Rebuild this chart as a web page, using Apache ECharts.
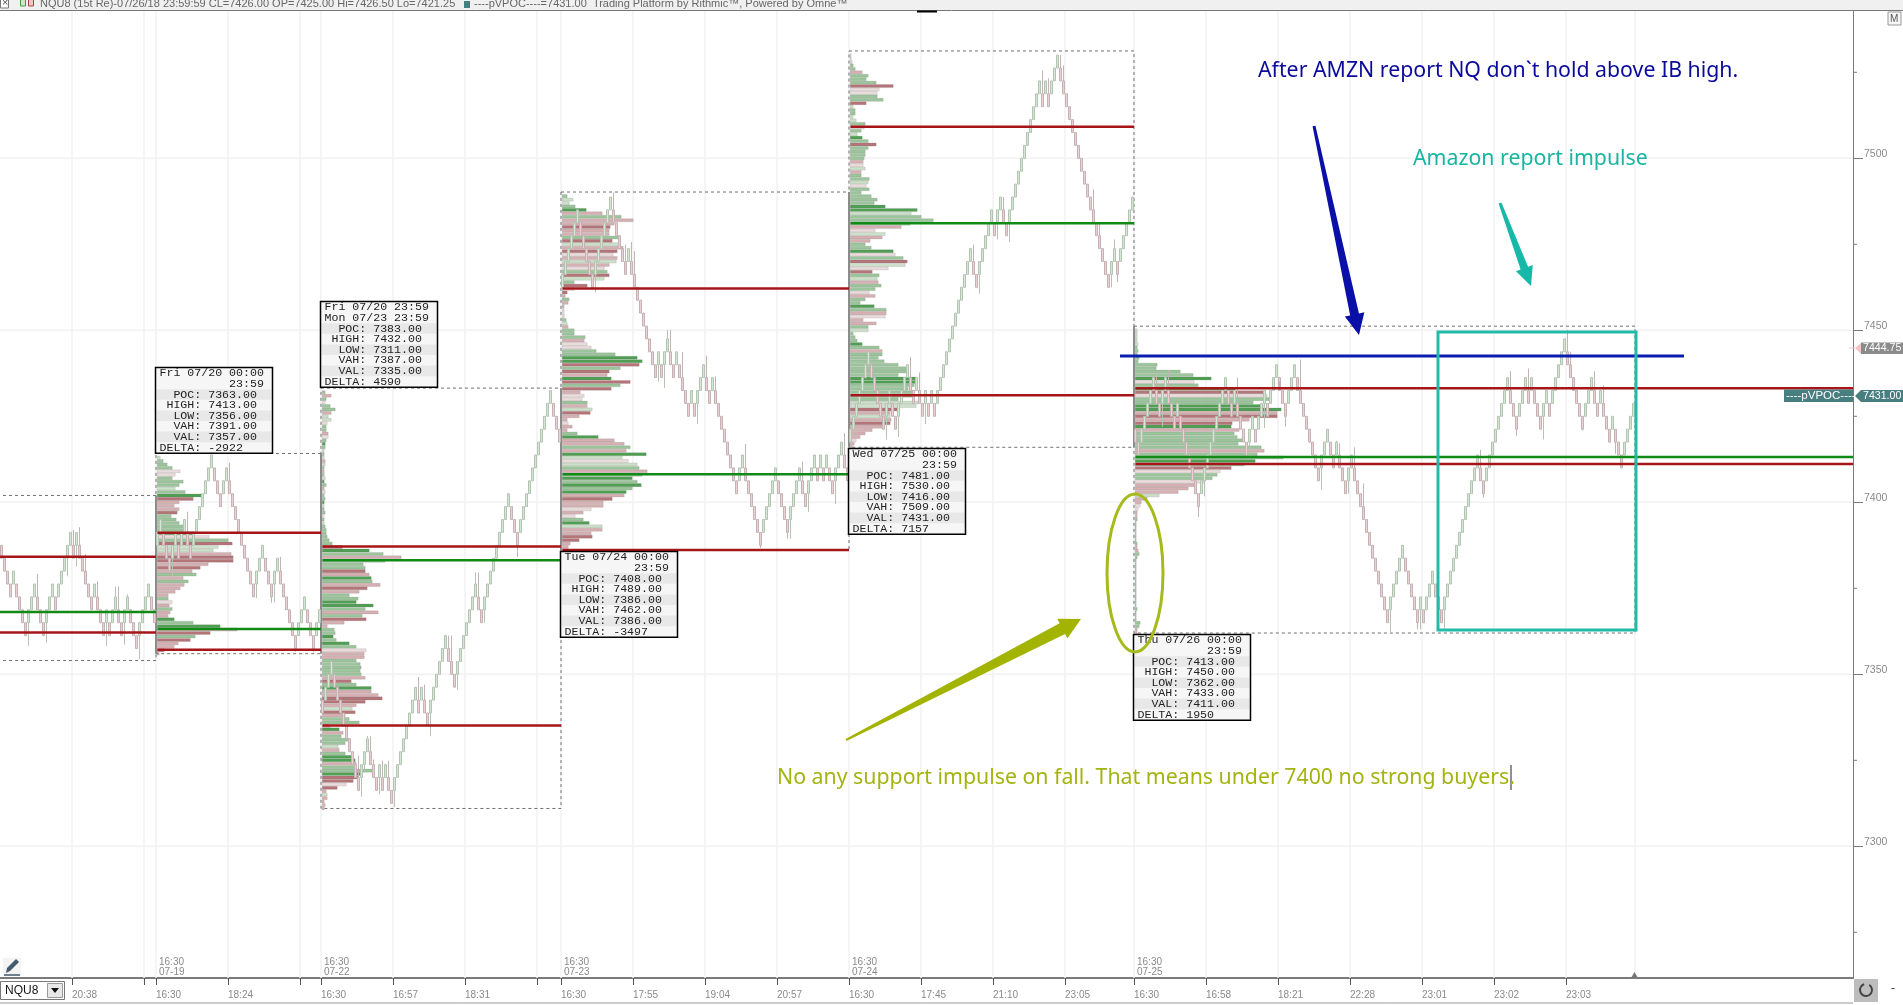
<!DOCTYPE html>
<html><head><meta charset="utf-8">
<style>html,body{margin:0;padding:0;background:#fff}#c{width:1903px;height:1005px}</style>
<script src="https://cdn.jsdelivr.net/npm/echarts@6/dist/echarts.min.js"></script>
</head><body><div id="c"></div>
<script>
// ---------- data ----------
const BRICK = 3.75;                // 15-tick range bars
const LEVEL_BASE = 7391.25;        // price of level 0 (top of bar)
const priceTicks = [7300,7350,7400,7450,7500];
const minorPriceTicks = [7275,7325,7375,7425,7475,7525];
const timeTickSlots = [24,48,52,76,100,107,131,155,179,187,211,235,259,283,307,331,355,378,402,426,450,474,498,522];
const timeLabelSlots = [24,52,76,107,131,155,187,211,235,259,283,307,331,355,378,402,426,450,474,498,522];
const timeLabels = ['20:38','16:30','18:24','16:30','16:57','18:31','16:30','17:55','19:04','20:57','16:30','17:45','21:10','23:05','16:30','16:58','18:21','22:28','23:01','23:02','23:03'];

// bar levels per session (1 level = one 3.75 point bar)
const levelsPrior = [-1,-2,-3,-4,-3,-4,-5,-6,-7,-6,-5,-4,-5,-6,-7,-6,-5,-4,-5,-4,-3,-2,-1,0,-1,0,-1,-2,-3,-4,-5,-4,-5,-6,-7,-6,-7,-6,-5,-6,-7,-6,-5,-6,-7,-8,-7,-6,-5,-4,-5,-6];
const levelsFri = [0,1,0,-1,-2,-1,0,-1,0,1,0,-1,0,1,2,3,4,5,6,5,4,3,4,5,4,3,2,1,0,-1,-2,-3,-4,-3,-2,-1,-2,-3,-4,-3,-2,-3,-4,-5,-6,-7,-8,-7,-6,-5,-6,-7,-8,-7,-6];
const levelsMon = [-13,-12,-11,-10,-11,-12,-13,-14,-15,-16,-17,-18,-19,-18,-17,-16,-17,-18,-19,-18,-19,-18,-19,-20,-19,-18,-17,-16,-15,-14,-13,-12,-13,-12,-13,-14,-13,-12,-11,-10,-9,-8,-9,-10,-11,-10,-9,-8,-7,-6,-5,-4,-5,-6,-5,-4,-3,-2,-1,0,1,2,3,2,1,0,1,2,3,4,5,6,7,8,9,10,11,10,9,8];
const levelsTue = [20,21,22,23,24,25,24,23,22,21,20,21,22,23,24,25,26,25,24,23,22,21,22,21,20,19,18,17,16,15,14,13,14,13,14,15,14,13,14,13,12,11,10,11,10,11,12,13,12,11,12,11,10,9,8,7,6,5,4,5,6,5,4,3,2,1,0,1,2,3,4,5,4,3,2,1,2,3,4,5,4,3,4,5,6,5,6,5,6,5,4,5,6,7,6,5];
const levelsWed = [8,9,10,11,12,13,14,13,12,11,10,9,10,11,10,9,10,11,12,13,12,11,12,11,10,11,10,11,10,11,12,13,14,15,16,17,18,19,20,21,22,21,20,21,22,23,24,25,24,25,26,25,24,25,26,27,28,29,30,31,32,33,34,35,34,35,34,35,36,37,36,35,34,33,32,31,30,29,28,27,26,25,24,23,22,21,20,21,22,21,22,23,24,25,26];
const levelsThu = [8,7,8,9,10,11,12,11,10,11,12,11,10,9,10,9,8,7,6,5,4,3,4,5,6,7,8,9,10,11,12,11,10,11,10,9,8,7,8,9,8,9,10,11,10,11,12,13,12,11,10,11,12,13,12,11,10,9,8,7,6,5,6,7,8,7,6,7,6,5,4,5,6,5,4,3,2,1,0,-1,-2,-3,-4,-5,-6,-5,-4,-3,-2,-1,-2,-3,-4,-5,-6,-5,-6,-5,-4,-3,-4,-5,-6,-5,-4,-3,-2,-1,0,1,2,3,4,5,6,5,4,5,6,7,8,9,10,11,12,11,10,9,10,11,12,11,12,11,10,9,10,11,10,11,12,13,14,15,14,13,12,11,10,9,10,11,12,11,10,11,10,9,8,9,8,7,6,7,8,9,10];
// long wicks: [bar number, level reached]
const longWicks = [[9,-8.8],[12,-3.2],[15,-8.55],[22,-3.4],[24,.2],[25,-2.66],[26,.4],[28,-1.7],[32,-3.8],[35,-8.8],[38,-4.2],[39,-4.2],[41,-8.7],[42,-4.8],[46,-9.8],
[57,-3.6],[62,1.6],[76,5.4],[85,-5.1],[90,-5.45],[91,-5.45],[93,-1.9],[98,-9.25],[104,-9.25],
[119,-17.3],[120,-20.5],[121,-18.5],[122,-15.8],[123,-15.8],[124,-17.6],[126,-20.3],[127,-17.7],[129,-17.7],[131,-21.3],[139,-11.2],[141,-11.8],[143,-15.8],[148,-7.96],[149,-8],[150,-8],[152,-12.2],[158,-3.1],[159,-3.1],[160,-7],[161,-7],[172,-1.9],
[204,26.35],[198,18.6],[208,22.3],[210,22.5],[211,21.8],[222,15.7],[223,15.7],[219,11.7],[221,11.2],[227,14],[235,13.7],[232,8.4],[238,12.1],[248,6.85],[253,-1.2],[262,-.5],[263,-.5],[267,5.5],[269,1.6],[278,2.2],[281,7.7],
[295,7.2],[299,7.4],[284,7.4],[303,13.6],[306,12.4],[308,8.4],[324,22.3],[326,18.5],[332,22.7],[334,26],[336,22.5],[347,35.8],[349,35.2],[353,37],[354,36.2],[364,26.6],[366,24],[370,19],[371,22.7],[372,19.4],[373,21],
[385,12.4],[389,12.6],[387,8.2],[399,1.2],[401,2.8],[412,12],[415,5.7],[416,5.7],[421,8.1],[426,11.7],[428,8.2],[433,13.4],[440,3.3],[445,7.1],[446,6.9],[449,3],[451,6.6],[454,3.8],[463,-7.8],[472,-7.5],[473,-7.5],[481,-7.45],[493,6.4],[494,2.7],[503,12.5],[505,7.5],[509,12.7],[514,7.2],[522,15.7],[523,14],[527,7.9],[531,12.5],[534,11.4],[538,6.1]];

// volume profiles: one row per point from the session high down; tone: + buyers, - sellers, 1..3 strength
const volFri = [3,6,10,15,23,18,15,26,22,18,28,46,36,22,17,22,20,14,19,22,27,28,37,52,71,75,61,56,74,76,76,51,43,35,39,26,31,27,23,18,11,11,15,12,15,13,11,17,36,63,80,53,38,33,21,17,7,2];
const toneFri = [1,2,2,2,-1,-1,2,2,2,1,2,3,-3,-2,-2,-2,-3,2,2,2,2,2,3,-1,2,-3,1,1,-2,-3,-3,-2,-3,-2,2,-2,2,-2,-2,-2,-2,2,-1,-2,2,-2,-2,3,2,3,-2,-3,2,-3,-2,-2,-3,-2];
const volMon = [3,9,4,3,8,13,9,6,9,5,4,4,6,6,4,3,3,2,2,2,3,3,2,2,2,3,2,4,2,3,2,3,2,2,2,3,2,2,2,3,4,4,5,7,10,20,47,61,79,63,41,43,43,47,49,50,58,45,37,27,36,34,51,43,56,40,44,22,5,12,13,11,14,27,34,44,42,42,34,38,39,38,39,43,29,34,49,49,56,60,43,34,30,33,23,27,37,8,17,21,19,27,23,16,17,23,30,33,34,33,52,40,36,31,24,15,4,5,5,2,3,2];
const toneMon = [2,-2,2,-1,2,2,-2,1,1,-1,2,2,-2,-1,2,3,2,1,2,1,-2,1,2,-2,2,1,3,2,-2,1,2,2,3,1,2,2,-1,2,1,2,2,2,2,2,2,-3,3,2,-2,2,2,2,-3,-2,3,2,-2,-3,-2,2,2,3,3,2,-2,2,-3,-2,-2,2,2,3,2,3,2,-1,-2,-2,2,2,2,2,2,-2,-3,2,3,-2,-2,-3,-3,-2,1,-3,-2,2,2,-2,3,-2,2,2,2,1,-2,2,3,3,-2,2,2,3,-3,-3,-1,-3,-2,1,-2,-2,-2,-2];
const volTue = [5,11,7,13,24,40,59,71,52,48,47,47,58,50,57,61,55,51,55,54,47,42,45,47,42,12,25,12,5,3,7,6,2,2,2,2,4,5,6,12,12,23,22,25,29,34,53,75,80,77,58,47,45,49,68,58,49,18,22,20,25,25,30,28,17,5,6,10,5,15,36,52,62,68,64,84,60,66,75,77,85,80,70,75,79,70,64,62,50,41,41,29,21,13,21,27,40,40,29,30,17,8,6,3];
const toneTue = [2,1,1,2,3,-2,2,-2,-2,-3,-2,-2,2,-3,1,-2,-3,-1,-2,1,-2,-1,2,-3,1,2,-3,-1,-3,-2,2,-2,-2,-1,-1,-1,2,1,-2,2,2,2,-2,-1,-1,2,2,3,3,-3,2,-3,-2,3,-3,2,-3,-2,-1,-1,2,-2,1,-3,-2,-2,-1,-2,-2,2,3,-2,-2,2,-2,3,1,-1,1,2,-2,2,3,2,3,2,3,-2,-3,-2,-2,-1,-2,-1,2,3,1,-2,-2,-3,-3,-2,-2,-2];
const volWed = [1,1,2,3,5,12,18,16,26,43,29,27,27,33,16,3,5,5,3,6,15,14,11,7,12,18,26,18,15,15,14,13,13,15,11,11,19,18,16,19,11,21,27,24,35,67,61,71,83,60,51,25,35,32,20,15,21,43,45,53,57,55,38,22,29,27,28,31,25,19,25,15,10,24,36,36,35,13,26,18,18,3,5,7,12,29,32,32,28,34,48,57,58,48,66,66,64,58,64,62,48,68,66,48,40,40,41,40,32,22,15,10,6,4,2];
const toneWed = [1,1,1,2,2,-2,2,2,2,-3,-1,-1,2,2,-3,1,2,2,1,1,2,-1,2,1,3,2,-3,2,2,2,2,-2,-1,1,-2,2,2,1,-1,2,2,2,2,2,3,3,1,2,2,2,-2,-1,1,-2,-2,2,2,3,-1,2,-3,1,-1,-3,2,1,-2,2,2,-1,-2,2,2,3,2,-2,-1,-2,-2,2,1,2,2,2,3,2,-2,2,2,2,2,2,2,2,3,3,2,2,2,2,2,1,1,-3,-2,1,-2,-3,-2,-2,-2,-2,-1,-2,-2];
const volThu = [2,2,2,2,3,2,3,2,4,3,22,21,45,58,76,59,63,100,128,132,135,118,128,146,142,142,114,97,96,104,99,102,107,103,126,129,122,148,120,109,96,85,82,77,69,59,53,43,24,12,6,5,3,2,2,2,1,1,1,1,1,1,2,2,3,4,2,1,1,1,1,1,1,1,1,1,1,1,1,1,1,2,1,1,1,5,4,2,2];
const toneThu = [1,1,1,1,1,2,2,2,2,2,2,2,2,2,3,-1,2,3,-3,-1,2,2,3,3,-2,-3,-2,-3,3,-2,2,2,2,2,2,-2,2,2,3,2,-3,-1,2,2,-1,-2,-2,-2,1,-2,-2,-1,-1,-2,-2,2,2,2,2,2,2,2,2,-2,-2,2,2,2,2,2,2,2,2,2,2,2,2,2,2,2,2,2,2,2,2,2,2,-2,-2];

// session statistics shown in the boxes and drawn as lines
const sessionNames = ['Fri','Mon','Tue','Wed','Thu'];
const sessionStartSlots = [52,107,187,283,378];
const sessionEndSlots = [107,187,283,378,545];
const sessionHeaders = [['Fri 07/20 00:00','          23:59'],['Fri 07/20 23:59','Mon 07/23 23:59'],['Tue 07/24 00:00','          23:59'],['Wed 07/25 00:00','          23:59'],['Thu 07/26 00:00','          23:59']];
const sessionPOC = [7363,7383,7408,7481,7413];
const sessionHigh = [7413,7432,7489,7530,7450];
const sessionLow = [7356,7311,7386,7416,7362];
const sessionVAH = [7391,7387,7462,7509,7433];
const sessionVAL = [7357,7335,7386,7431,7411];
const sessionDelta = [-2922,4590,-3497,7157,1950];
const sessionBoxAbove = [true,true,false,false,false];
const sessionVol = [volFri,volMon,volTue,volWed,volThu];
const sessionTone = [toneFri,toneMon,toneTue,toneWed,toneThu];
const sessionTimeMarks = [['16:30','07-19'],['16:30','07-22'],['16:30','07-23'],['16:30','07-24'],['16:30','07-25']];
const priorPOC = 7368, priorVAH = 7384, priorVAL = 7362, priorHigh = 7402, priorLow = 7354;
const lastPrice = 7444.75, pvpoc = 7431;
const BOX_TOP_PAD = 1.2;

// ---------- build ----------
const allLevels = [...levelsPrior,...levelsFri,...levelsMon,...levelsTue,...levelsWed,...levelsThu];
const wickMap = new Map(longWicks);
const px = l => LEVEL_BASE + BRICK*l;
const candles = allLevels.map((l,i)=>{
  const up = i===0 ? false : l>=allLevels[i-1];
  const top = px(l), bot = px(l-1);
  let hi = top, lo = bot;
  if (wickMap.has(i)) { const w = px(wickMap.get(i)); if (w>top) hi=w; else lo=w; }
  return [i+0.5, up?bot:top, up?top:bot, lo, hi];
});
const toneColor = {'3':'#4f9f52','2':'#9bc59b','1':'#cde0c9','-1':'#ebdcdc','-2':'#d6b0b2','-3':'#b57478'};
const VOL_TO_SLOT = 1/3;
const rows = [];
sessionVol.forEach((v,s)=>v.forEach((vol,k)=>rows.push([sessionStartSlots[s]+0.4, sessionHigh[s]-k, vol, sessionTone[s][k]])));
const hLines = [
 [0,52,priorVAH,'#a61518'],[0,52,priorVAL,'#a61518'],[0,52,priorPOC,'#128a16']
];
sessionNames.forEach((n,s)=>{
  const end = s===4 ? 617.67 : sessionEndSlots[s];
  hLines.push([sessionStartSlots[s]+.5,end,sessionVAH[s],'#a61518']);
  hLines.push([sessionStartSlots[s]+.5,end,sessionVAL[s],'#a61518']);
  hLines.push([sessionStartSlots[s]+.5,end,sessionPOC[s],'#128a16']);
});
const boxes = [[-5,52,priorHigh,priorLow]].concat(sessionNames.map((n,s)=>[sessionStartSlots[s],sessionEndSlots[s],sessionHigh[s]+BOX_TOP_PAD,sessionLow[s]]));
// where two neighbouring session frames share an edge the dashes close up into a solid line
const sharedEdges = sessionNames.map((n,s)=>{const p=boxes[s],c=boxes[s+1];return [sessionStartSlots[s],Math.min(p[2],c[2]),Math.max(p[3],c[3])];});
const fmt = v=>v.toFixed(2);
const boxRows = s=>[sessionHeaders[s][0],sessionHeaders[s][1],'  POC: '+fmt(sessionPOC[s]),' HIGH: '+fmt(sessionHigh[s]),'  LOW: '+fmt(sessionLow[s]),'  VAH: '+fmt(sessionVAH[s]),'  VAL: '+fmt(sessionVAL[s]),'DELTA: '+sessionDelta[s]];

const chart = echarts.init(document.getElementById('c'),null,{renderer:'canvas'});
const GRIDC = '#f2f2f2', AXC='#7a7a7a', LBL='#8a8a8a', NARROW='"Liberation Sans Narrow","Liberation Sans",sans-serif';
const NOTE='21.3px "Noto Sans","Open Sans",sans-serif';
const labelMap = {}; timeLabelSlots.forEach((s,i)=>labelMap[s]=timeLabels[i]);

function arrow(x0,y0,x1,y1,wt,ws,hw,hl,fill){
  const L=Math.hypot(x1-x0,y1-y0),dx=(x1-x0)/L,dy=(y1-y0)/L,nx=-dy,ny=dx,bx=x1-dx*hl,by=y1-dy*hl;
  return {type:'polygon',z:100,shape:{points:[[x0+nx*wt,y0+ny*wt],[bx+nx*ws,by+ny*ws],[bx+nx*hw,by+ny*hw],[x1,y1],[bx-nx*hw,by-ny*hw],[bx-nx*ws,by-ny*ws],[x0-nx*wt,y0-ny*wt]]},style:{fill}};
}
const T=(x,y,text,o)=>({type:'text',z:110,x,y,style:Object.assign({text,fill:LBL,font:'11px '+NARROW,textVerticalAlign:'middle'},o||{})});
const R=(x,y,w,h,fill,stroke,lw)=>({type:'rect',z:105,shape:{x,y,width:w,height:h},style:{fill:fill||'none',stroke:stroke||'none',lineWidth:lw||0}});
const graphicEls = [
 // annotations
 {type:'line',z:100,shape:{x1:1120,y1:356,x2:1684,y2:356},style:{stroke:'#0a1db0',lineWidth:3}},
 {type:'rect',z:100,shape:{x:1438,y:332,width:198,height:298},style:{fill:'none',stroke:'#22bbaa',lineWidth:3}},
 {type:'ellipse',z:100,shape:{cx:1135,cy:573,rx:28,ry:79},style:{fill:'none',stroke:'#a6ba1c',lineWidth:3}},
 arrow(1314,126,1359,335,1.5,4.5,10,21,'#0a0fa8'),
 arrow(1500,203,1531,286,1.5,4,9,19,'#18b8a8'),
 arrow(846,740,1081,619,1,6,11,21,'#a3b400'),
 T(1258,71,'After AMZN report NQ don`t hold above IB high.',{fill:'#0a0a9b',font:NOTE}),
 T(1413,159,'Amazon report impulse',{fill:'#18b5a2',font:NOTE}),
 T(777,778,'No any support impulse on fall. That means under 7400 no strong buyers.',{fill:'#a3b410',font:NOTE}),
 {type:'line',z:100,shape:{x1:1511,y1:765,x2:1511,y2:790},style:{stroke:'#222',lineWidth:1}},
 // top bar
 R(0,0,1903,10,'#f0f0f0'),
 {type:'line',z:106,shape:{x1:0,y1:10.5,x2:1903,y2:10.5},style:{stroke:'#777',lineWidth:1}},
 {type:'line',z:106,shape:{x1:917,y1:11.5,x2:937,y2:11.5},style:{stroke:'#000',lineWidth:2}},
 R(0.5,-3,8,11,'#fff','#777',1),
 T(2,3,'×',{fill:'#555'}),
 R(20.5,-1,5,7,'#cfe5c8','#4a9a4a',1),
 R(28.5,-1,5,7,'#e8c8c8','#a44',1),
 T(40,4,'NQU8 (15t Re)-07/26/18 23:59:59 CL=7426.00 OP=7425.00 Hi=7426.50 Lo=7421.25',{fill:'#666'}),
 R(464,1,6,7,'#447f80'),
 T(474,4,'----pVPOC----=7431.00  Trading Platform by Rithmic™, Powered by Omne™',{fill:'#666'}),
 R(1888,12,13,13,'#f7f7f7','#999',1),
 T(1890,19,'M',{fill:'#555',font:'10px "Liberation Sans",sans-serif'}),
 // last-price tags
 {type:'polygon',z:105,shape:{points:[[1855,348],[1861,343],[1861,354]]},style:{fill:'#f5c4c4'}},
 {type:'line',z:105,shape:{x1:1849,y1:348,x2:1855,y2:348},style:{stroke:'#f5c4c4',lineWidth:1}},
 R(1861,342.5,42,11.5,'#8b8b8b'),
 T(1863,348.5,lastPrice.toFixed(2),{fill:'#fff',font:'10.6px "Liberation Sans",sans-serif'}),
 R(1784,389.5,69,12.5,'#477f80'),
 T(1786,396,'----pVPOC----',{fill:'#fff',font:'11.5px "Liberation Sans",sans-serif'}),
 {type:'polygon',z:105,shape:{points:[[1855,396],[1861,390],[1861,402]]},style:{fill:'#477f80'}},
 R(1861,390,42,12,'#477f80'),
 T(1863,396,pvpoc.toFixed(2),{fill:'#fff',font:'10.6px "Liberation Sans",sans-serif'}),
 // bottom row
 {type:'line',z:106,shape:{x1:0,y1:1003,x2:1853,y2:1003},style:{stroke:'#999',lineWidth:1}},
 R(0.5,981.5,64,18,'#fff','#777',1),
 T(5,990.5,'NQU8',{fill:'#111',font:'12px '+NARROW}),
 R(47.5,983.5,15,14,'#e8e8e8','#999',1),
 {type:'polygon',z:107,shape:{points:[[51,988],[59,988],[55,993]]},style:{fill:'#111'}},
 R(3,958,18,18,'#f3f3f3'),
 {type:'polygon',z:107,shape:{points:[[6,973],[7,968],[16,959],[19,962],[10,971]]},style:{fill:'#44596b'}},
 {type:'line',z:107,shape:{x1:4,y1:975,x2:20,y2:975},style:{stroke:'#44596b',lineWidth:1.5}},
 R(1854,979,24,23,'#bdbdbd'),
 {type:'arc',z:107,shape:{cx:1866,cy:990,r:6,startAngle:-1,endAngle:4.4},style:{stroke:'#444',lineWidth:2,fill:'none'}},
 T(1891,989,'-',{fill:'#333',font:'12px '+NARROW}),
 {type:'polygon',z:107,shape:{points:[[1631,978],[1638,978],[1634.5,972]]},style:{fill:'#777'}}
];

chart.setOption({
 animation:false,
 backgroundColor:'#fff',
 grid:{left:0,width:1853,top:11,height:967,containLabel:false,show:false},
 xAxis:{type:'value',min:0,max:617.67,position:'bottom',
   axisLine:{show:true,onZero:false,lineStyle:{color:AXC,width:2}},
   axisTick:{show:true,length:7,lineStyle:{color:'#555'},customValues:timeTickSlots},
   axisLabel:{show:true,color:LBL,fontFamily:NARROW,fontSize:10,margin:12,align:'left',customValues:timeLabelSlots,formatter:v=>labelMap[v]||''},
   splitLine:{show:false}},
 yAxis:{type:'value',min:7261.72,max:7542.82,position:'right',
   axisLine:{show:true,onZero:false,lineStyle:{color:AXC,width:1}},
   axisTick:{show:true,length:10,lineStyle:{color:AXC},customValues:priceTicks},
   axisLabel:{show:true,color:LBL,fontFamily:NARROW,fontSize:10.5,margin:11,verticalAlign:'bottom',lineHeight:8,customValues:priceTicks,formatter:v=>String(v)},
   splitLine:{show:false}},
 graphic:{elements:graphicEls},
 series:[
  {type:'custom',name:'gridX',z:1,silent:true,data:timeTickSlots.concat([545]).map(v=>[v,7400]),
   renderItem:(p,api)=>{const a=api.coord([api.value(0),7542.82]),b=api.coord([api.value(0),7261.72]);
     return {type:'line',shape:{x1:a[0],y1:a[1],x2:b[0],y2:b[1]},style:{stroke:GRIDC,lineWidth:1.5}};}},
  {type:'custom',name:'gridY',z:1,silent:true,data:priceTicks.map(v=>[0,v]),
   renderItem:(p,api)=>{const a=api.coord([0,api.value(1)]),b=api.coord([617.67,api.value(1)]);
     return {type:'line',shape:{x1:a[0],y1:a[1],x2:b[0],y2:b[1]},style:{stroke:GRIDC,lineWidth:1.5}};}},
  {type:'custom',name:'minorTicks',z:1,silent:true,data:minorPriceTicks.map(v=>[617.67,v]),
   renderItem:(p,api)=>{const a=api.coord([617.67,api.value(1)]);
     return {type:'line',shape:{x1:a[0],y1:a[1],x2:a[0]+4,y2:a[1]},style:{stroke:AXC,lineWidth:1}};}},
  {type:'custom',name:'profile',z:2,silent:true,data:rows,
   renderItem:(p,api)=>{const r=rows[p.dataIndex];
     const a=api.coord([r[0],r[1]+.5]),b=api.coord([r[0]+Math.max(r[2],1)*VOL_TO_SLOT,r[1]-.5]);
     return {type:'rect',shape:{x:a[0],y:a[1]+.2,width:b[0]-a[0],height:b[1]-a[1]-.4},style:{fill:toneColor[r[3]],stroke:'rgba(125,125,125,0.32)',lineWidth:.6}};}},
  {type:'custom',name:'sessionBox',z:3,silent:true,data:boxes,
   renderItem:(p,api)=>{const r=boxes[p.dataIndex];const a=api.coord([r[0],r[2]]),b=api.coord([r[1],r[3]]);
     return {type:'rect',shape:{x:a[0],y:a[1],width:b[0]-a[0],height:b[1]-a[1]},style:{fill:'none',stroke:'#6f6f6f',lineWidth:1,lineDash:[3,3]}};}},
  {type:'custom',name:'sharedEdge',z:3,silent:true,data:sharedEdges,
   renderItem:(p,api)=>{const r=sharedEdges[p.dataIndex];const a=api.coord([r[0],r[1]]),b=api.coord([r[0],r[2]]);
     return {type:'line',shape:{x1:a[0],y1:a[1],x2:b[0],y2:b[1]},style:{stroke:'#8c8c8c',lineWidth:2}};}},
  {type:'candlestick',name:'NQU8',z:4,silent:true,large:false,barWidth:3,data:candles,encode:{x:0,y:[1,2,3,4]},
   itemStyle:{color:'#d3e8d3',color0:'#ecd0d2',borderColor:'#b5c4b2',borderColor0:'#c4b2b4',borderWidth:1}},
  {type:'custom',name:'levels',z:5,silent:true,data:hLines,
   renderItem:(p,api)=>{const r=hLines[p.dataIndex];const a=api.coord([r[0],r[2]]),b=api.coord([r[1],r[2]]);
     return {type:'line',shape:{x1:a[0],y1:a[1]-.5,x2:b[0],y2:b[1]-.5},style:{stroke:r[3],lineWidth:2.5}};}},
  {type:'custom',name:'sessionMarks',z:6,silent:true,data:sessionStartSlots.map(s=>[s,7300]),
   renderItem:(p,api)=>{const c=api.coord([sessionStartSlots[p.dataIndex],7261.72]);const m=sessionTimeMarks[p.dataIndex];
     const st=(t,y)=>({type:'text',x:c[0]+3,y,style:{text:t,fill:LBL,font:'10px '+NARROW,textVerticalAlign:'middle'}});
     return {type:'group',children:[st(m[0],c[1]-16),st(m[1],c[1]-6)]};}},
  {type:'custom',name:'sessionInfo',z:7,silent:true,data:sessionStartSlots.map((s,i)=>[s,sessionHigh[i]]),
   renderItem:(p,api)=>{const s=p.dataIndex;const above=sessionBoxAbove[s];
     const c=api.coord([sessionStartSlots[s],above?sessionHigh[s]:sessionLow[s]]);
     const W=117,RH=10.6,H=RH*8+1; const x=Math.round(c[0])-.5; const y=above?Math.round(c[1]-H-5)+.5:Math.round(c[1]+1)+.5;
     const ch=[{type:'rect',shape:{x,y,width:W,height:H},style:{fill:'#f6f6f6'}}];
     boxRows(s).forEach((t,i)=>{
       if(i%2===0&&i>0) ch.push({type:'rect',shape:{x:x+1,y:y+.5+i*RH,width:W-2,height:RH},style:{fill:'#e8e8e8'}});
       ch.push({type:'text',x:x+4,y:y+.5+(i+.5)*RH,style:{text:t,fill:'#222',font:'11.6px "Liberation Mono",monospace',textVerticalAlign:'middle'}});
     });
     ch.push({type:'rect',shape:{x,y,width:W,height:H},style:{fill:'none',stroke:'#000',lineWidth:1.5}});
     return {type:'group',children:ch};}}
 ]
});
</script></body></html>
